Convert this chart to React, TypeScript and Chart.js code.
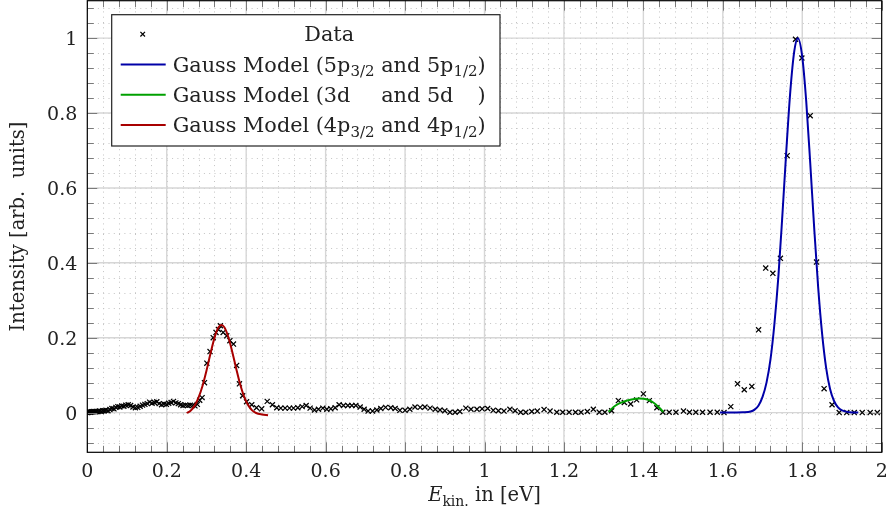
import { useEffect, useRef } from "react";
import { Chart, registerables } from "chart.js";

Chart.register(...registerables);

// ---------------- data ----------------
const dataX = [
  0.000, 0.002, 0.004, 0.006, 0.008, 0.011, 0.014, 0.017, 0.020, 0.023, 0.027, 0.031, 0.035, 0.039,
  0.043, 0.047, 0.052, 0.057, 0.062, 0.067, 0.072, 0.077, 0.082, 0.087, 0.092, 0.097, 0.103, 0.109,
  0.115, 0.121, 0.127, 0.133, 0.139, 0.145, 0.151, 0.157, 0.163, 0.169, 0.175, 0.181, 0.187, 0.193,
  0.199, 0.205, 0.211, 0.217, 0.223, 0.229, 0.235, 0.241, 0.247, 0.253, 0.259, 0.265,
  0.271, 0.277, 0.283, 0.289, 0.295, 0.301, 0.309, 0.317, 0.324, 0.330, 0.335, 0.342, 0.351, 0.359,
  0.368, 0.376, 0.383, 0.391, 0.401, 0.414, 0.426, 0.439,
  0.453, 0.466, 0.477, 0.487, 0.498, 0.509, 0.519, 0.530, 0.541, 0.551, 0.561, 0.572, 0.582, 0.593,
  0.603, 0.613, 0.624, 0.634, 0.645, 0.656, 0.666, 0.676, 0.687, 0.697, 0.707, 0.718, 0.729,
  0.739, 0.751, 0.764, 0.775, 0.787, 0.800, 0.812, 0.825, 0.838, 0.850, 0.863, 0.876, 0.888, 0.900,
  0.913, 0.926, 0.938, 0.953, 0.966, 0.981, 0.994, 1.008, 1.022, 1.035, 1.049, 1.064, 1.077, 1.091,
  1.104, 1.119, 1.133, 1.150, 1.165, 1.182, 1.197, 1.213, 1.229, 1.243, 1.259, 1.274, 1.289, 1.303,
  1.320, 1.337, 1.352, 1.368, 1.383, 1.400, 1.415, 1.434, 1.449, 1.465, 1.482, 1.501, 1.516, 1.532,
  1.549, 1.568, 1.586, 1.603, 1.620, 1.637, 1.654, 1.673, 1.690, 1.708, 1.726, 1.745, 1.762, 1.783,
  1.799, 1.820, 1.836, 1.855, 1.875, 1.893, 1.912, 1.931, 1.951, 1.971, 1.989,
];
const dataY = [
  0.000, 0.001, 0.001, 0.002, 0.001, 0.002, 0.002, 0.003, 0.002, 0.003, 0.003, 0.004, 0.003, 0.005,
  0.005, 0.006, 0.005, 0.008, 0.011, 0.010, 0.014, 0.016, 0.015, 0.018, 0.017, 0.020, 0.021, 0.019,
  0.015, 0.013, 0.014, 0.017, 0.020, 0.022, 0.024, 0.028, 0.025, 0.027, 0.029, 0.024, 0.021, 0.023,
  0.022, 0.025, 0.027, 0.030, 0.026, 0.024, 0.021, 0.019, 0.020, 0.019, 0.020, 0.019,
  0.018, 0.022, 0.033, 0.040, 0.080, 0.132, 0.163, 0.200, 0.214, 0.222, 0.232, 0.214, 0.205, 0.192,
  0.183, 0.126, 0.077, 0.045, 0.029, 0.021, 0.013, 0.010,
  0.030, 0.021, 0.013, 0.012, 0.012, 0.012, 0.012, 0.013, 0.016, 0.019, 0.012, 0.007, 0.009, 0.012,
  0.009, 0.010, 0.013, 0.021, 0.019, 0.019, 0.019, 0.019, 0.015, 0.009, 0.004, 0.004, 0.007,
  0.011, 0.014, 0.013, 0.011, 0.006, 0.006, 0.009, 0.015, 0.014, 0.015, 0.012, 0.009, 0.007, 0.005,
  0.001, 0.001, 0.003, 0.012, 0.009, 0.009, 0.010, 0.011, 0.006, 0.005, 0.004, 0.009, 0.005, 0.001,
  0.001, 0.003, 0.004, 0.008, 0.004, 0.001, 0.001, 0.001, 0.001, 0.001, 0.003, 0.009, 0.001, 0.001,
  0.005, 0.032, 0.027, 0.023, 0.034, 0.050, 0.032, 0.013, 0.001, 0.001, 0.001, 0.004, 0.001, 0.001,
  0.001, 0.001, 0.001, 0.000, 0.016, 0.077, 0.061, 0.070, 0.221, 0.386, 0.372, 0.412, 0.686, 0.997,
  0.947, 0.793, 0.402, 0.064, 0.021, 0.000, 0.000, 0.000, 0.000, 0.000, 0.000,
];

// Gauss model 5p (blue)
const blueX = [
  1.593, 1.620, 1.650, 1.670, 1.680, 1.690, 1.700, 1.710, 1.720, 1.730, 1.740, 1.750, 1.760, 1.770,
  1.780, 1.789, 1.800, 1.810, 1.820, 1.830, 1.840, 1.850, 1.860, 1.870, 1.880, 1.890, 1.900, 1.920, 1.941,
];
const blueY = [
  0.000, 0.000, 0.001, 0.003, 0.008, 0.019, 0.042, 0.080, 0.142, 0.238, 0.365, 0.528, 0.702, 0.859,
  0.966, 1.000, 0.950, 0.831, 0.668, 0.494, 0.335, 0.210, 0.120, 0.063, 0.031, 0.014, 0.006, 0.001, 0.000,
];
// Gauss model 3d / 5d (green)
const greenX = [1.312, 1.330, 1.350, 1.370, 1.390, 1.410, 1.425, 1.440, 1.450];
const greenY = [0.002, 0.019, 0.029, 0.035, 0.038, 0.035, 0.027, 0.013, 0.002];
// Gauss model 4p (red)
const redX = [
  0.250, 0.260, 0.270, 0.280, 0.290, 0.300, 0.310, 0.320, 0.330, 0.338, 0.345, 0.355, 0.365, 0.375,
  0.385, 0.395, 0.405, 0.415, 0.425, 0.440, 0.455,
];
const redY = [
  -0.001, 0.005, 0.018, 0.040, 0.071, 0.112, 0.157, 0.199, 0.227, 0.234, 0.228, 0.202, 0.162, 0.117,
  0.075, 0.042, 0.020, 0.006, -0.001, -0.005, -0.007,
];

const xTicks = [0, 0.2, 0.4, 0.6, 0.8, 1, 1.2, 1.4, 1.6, 1.8, 2];
const xTickLabels = ["0", "0.2", "0.4", "0.6", "0.8", "1", "1.2", "1.4", "1.6", "1.8", "2"];
const yTicks = [0, 0.2, 0.4, 0.6, 0.8, 1];
const yTickLabels = ["0", "0.2", "0.4", "0.6", "0.8", "1"];

const yTitle = "Intensity [arb.  units]";
type Seg = { t: string; sub?: boolean; gap?: boolean; italic?: boolean };
const xTitle: Seg[] = [{ t: "E", italic: true }, { t: "kin.", sub: true }, { t: " in [eV]" }];

const legendRows: { kind: "mark" | "line"; color: string; segs: Seg[] }[] = [
  { kind: "mark", color: "#000", segs: [{ t: "Data" }] },
  {
    kind: "line",
    color: "#0000a8",
    segs: [{ t: "Gauss Model (5p" }, { t: "3/2", sub: true }, { t: " and 5p" }, { t: "1/2", sub: true }, { t: ")" }],
  },
  {
    kind: "line",
    color: "#00a000",
    segs: [{ t: "Gauss Model (3d" }, { t: "3/2", sub: true, gap: true }, { t: " and 5d" }, { t: "1/2", sub: true, gap: true }, { t: ")" }],
  },
  {
    kind: "line",
    color: "#a80000",
    segs: [{ t: "Gauss Model (4p" }, { t: "3/2", sub: true }, { t: " and 4p" }, { t: "1/2", sub: true }, { t: ")" }],
  },
];

// ---------------- styling ----------------
const FAMILY = '"DejaVu Serif", serif';
const FS = 19;
const LEG_FS = 20.8;

function font(seg: Seg | null, size = FS) {
  if (seg && seg.sub) return `${Math.round(size * 0.72 * 10) / 10}px ${FAMILY}`;
  if (seg && seg.italic) return `italic ${size}px ${FAMILY}`;
  return `${size}px ${FAMILY}`;
}

function segsWidth(ctx: CanvasRenderingContext2D, segs: Seg[], size = FS) {
  let w = 0;
  for (const s of segs) {
    ctx.font = font(s, size);
    w += ctx.measureText(s.t).width;
  }
  return w;
}

function drawSegs(ctx: CanvasRenderingContext2D, segs: Seg[], x: number, base: number, size = FS) {
  let cx = x;
  for (const s of segs) {
    ctx.font = font(s, size);
    const w = ctx.measureText(s.t).width;
    if (!s.gap) ctx.fillText(s.t, cx, s.sub ? base + size * 0.22 : base);
    cx += w;
  }
}

function range(a: number, b: number, step: number) {
  const out: number[] = [];
  for (let v = a; v <= b + 1e-9; v += step) out.push(Math.round(v * 1000) / 1000);
  return out;
}

const pgfPlugin = {
  id: "pgf",
  beforeDatasetsDraw(chart: any) {
    const { ctx, chartArea: a, scales } = chart;
    const xs = scales.x;
    const ys = scales.y;
    ctx.save();
    ctx.beginPath();
    ctx.rect(a.left, a.top, a.right - a.left, a.bottom - a.top);
    ctx.clip();
    // minor dotted grid
    ctx.strokeStyle = "#c4c4c4";
    ctx.lineWidth = 1;
    ctx.setLineDash([1, 4.3]);
    for (const v of range(0, 2, 0.04)) {
      const px = Math.round(xs.getPixelForValue(v)) + 0.5;
      ctx.beginPath();
      ctx.moveTo(px, a.bottom);
      ctx.lineTo(px, a.top);
      ctx.stroke();
    }
    for (const v of range(-0.08, 1.08, 0.04)) {
      const py = Math.round(ys.getPixelForValue(v)) + 0.5;
      ctx.beginPath();
      ctx.moveTo(a.left, py);
      ctx.lineTo(a.right, py);
      ctx.stroke();
    }
    // major grid
    ctx.setLineDash([]);
    ctx.strokeStyle = "#d6d6d6";
    ctx.lineWidth = 1.4;
    for (const v of xTicks) {
      const px = xs.getPixelForValue(v);
      ctx.beginPath();
      ctx.moveTo(px, a.bottom);
      ctx.lineTo(px, a.top);
      ctx.stroke();
    }
    for (const v of yTicks) {
      const py = ys.getPixelForValue(v);
      ctx.beginPath();
      ctx.moveTo(a.left, py);
      ctx.lineTo(a.right, py);
      ctx.stroke();
    }
    ctx.restore();
  },
  afterDatasetsDraw(chart: any) {
    const { ctx, chartArea: a, scales } = chart;
    const xs = scales.x;
    const ys = scales.y;
    ctx.save();
    // ticks (inward, all four sides)
    ctx.strokeStyle = "#7a7a7a";
    ctx.lineWidth = 1;
    const isMajor = (v: number, list: number[]) => list.some((t) => Math.abs(t - v) < 1e-6);
    for (const v of range(0, 2, 0.04)) {
      const len = isMajor(v, xTicks) ? 10 : 6.5;
      const px = Math.round(xs.getPixelForValue(v)) + 0.5;
      ctx.beginPath();
      ctx.moveTo(px, a.bottom);
      ctx.lineTo(px, a.bottom - len);
      ctx.moveTo(px, a.top);
      ctx.lineTo(px, a.top + len);
      ctx.stroke();
    }
    for (const v of range(-0.08, 1.08, 0.04)) {
      const len = isMajor(v, yTicks) ? 10 : 6.5;
      const py = Math.round(ys.getPixelForValue(v)) + 0.5;
      ctx.beginPath();
      ctx.moveTo(a.left, py);
      ctx.lineTo(a.left + len, py);
      ctx.moveTo(a.right, py);
      ctx.lineTo(a.right - len, py);
      ctx.stroke();
    }
    // frame
    ctx.strokeStyle = "#000";
    ctx.lineWidth = 1.2;
    ctx.strokeRect(a.left, a.top, a.right - a.left, a.bottom - a.top);

    // tick labels
    ctx.fillStyle = "#222";
    ctx.font = font(null);
    ctx.textBaseline = "alphabetic";
    ctx.textAlign = "center";
    xTicks.forEach((v, i) => {
      ctx.fillText(xTickLabels[i], xs.getPixelForValue(v), a.bottom + 25);
    });
    ctx.textAlign = "right";
    yTicks.forEach((v, i) => {
      ctx.fillText(yTickLabels[i], a.left - 10, ys.getPixelForValue(v) + 7);
    });

    // axis titles
    ctx.textAlign = "left";
    const tw = segsWidth(ctx, xTitle, 19.5);
    drawSegs(ctx, xTitle, (a.left + a.right) / 2 - tw / 2, a.bottom + 49, 19.5);
    ctx.save();
    ctx.translate(24, (a.top + a.bottom) / 2);
    ctx.rotate(-Math.PI / 2);
    ctx.textAlign = "center";
    ctx.font = font(null, 19.5);
    ctx.fillText(yTitle, 0, 0);
    ctx.restore();

    // legend
    const lx = 111.7, ly = 14.7, lw = 388.3, lh = 131.3;
    ctx.fillStyle = "#fff";
    ctx.fillRect(lx, ly, lw, lh);
    ctx.strokeStyle = "#222";
    ctx.lineWidth = 1.2;
    ctx.strokeRect(lx, ly, lw, lh);
    const textX = lx + 61;
    let maxW = 0;
    legendRows.forEach((r) => (maxW = Math.max(maxW, segsWidth(ctx, r.segs, LEG_FS))));
    legendRows.forEach((r, i) => {
      const cy = ly + 19.5 + i * 30.3;
      if (r.kind === "line") {
        ctx.strokeStyle = r.color;
        ctx.lineWidth = 2;
        ctx.beginPath();
        ctx.moveTo(lx + 9, cy);
        ctx.lineTo(lx + 54, cy);
        ctx.stroke();
      } else {
        ctx.strokeStyle = r.color;
        ctx.lineWidth = 1.2;
        const mx = lx + 31, d = 2.3;
        ctx.beginPath();
        ctx.moveTo(mx - d, cy - d);
        ctx.lineTo(mx + d, cy + d);
        ctx.moveTo(mx - d, cy + d);
        ctx.lineTo(mx + d, cy - d);
        ctx.stroke();
      }
      ctx.fillStyle = "#222";
      ctx.textAlign = "left";
      const w = segsWidth(ctx, r.segs, LEG_FS);
      const sx = r.kind === "mark" ? textX + maxW / 2 - w / 2 : textX;
      drawSegs(ctx, r.segs, sx, cy + 7, LEG_FS);
    });
    ctx.restore();
  },
};

export default function App() {
  const ref = useRef<HTMLCanvasElement | null>(null);
  useEffect(() => {
    if (!ref.current) return;
    const pts = (xs: number[], ys: number[]) => xs.map((x, i) => ({ x, y: ys[i] }));
    const chart = new Chart(ref.current, {
      type: "scatter",
      data: {
        datasets: [
          {
            label: "Data",
            data: pts(dataX, dataY),
            pointStyle: "crossRot",
            pointRadius: 3.6,
            pointBorderWidth: 1.25,
            borderColor: "#000",
            backgroundColor: "#000",
            showLine: false,
            order: 4,
          } as any,
          {
            label: "Gauss Model (5p3/2 and 5p1/2)",
            data: pts(blueX, blueY),
            showLine: true,
            borderColor: "#0000a8",
            borderWidth: 2,
            pointRadius: 0,
            cubicInterpolationMode: "monotone",
            order: 1,
          } as any,
          {
            label: "Gauss Model (3d and 5d)",
            data: pts(greenX, greenY),
            showLine: true,
            borderColor: "#00a000",
            borderWidth: 2,
            pointRadius: 0,
            cubicInterpolationMode: "monotone",
            order: 2,
          } as any,
          {
            label: "Gauss Model (4p3/2 and 4p1/2)",
            data: pts(redX, redY),
            showLine: true,
            borderColor: "#a80000",
            borderWidth: 2,
            pointRadius: 0,
            cubicInterpolationMode: "monotone",
            order: 3,
          } as any,
        ],
      },
      options: {
        responsive: false,
        animation: false,
        devicePixelRatio: 1,
        events: [],
        layout: { autoPadding: false, padding: { left: 87.3, top: 0.7, right: 7.3, bottom: 69.7 } },
        scales: {
          x: { type: "linear", min: 0, max: 2, display: false },
          y: { type: "linear", min: -0.106, max: 1.1, display: false },
        },
        plugins: { legend: { display: false }, tooltip: { enabled: false } },
      },
      plugins: [pgfPlugin as any],
    });
    return () => chart.destroy();
  }, []);
  return (
    <div style={{ position: "absolute", left: 0, top: 0, width: 889, height: 522, background: "#fff" }}>
      <canvas ref={ref} width={889} height={522} style={{ display: "block" }} />
    </div>
  );
}
